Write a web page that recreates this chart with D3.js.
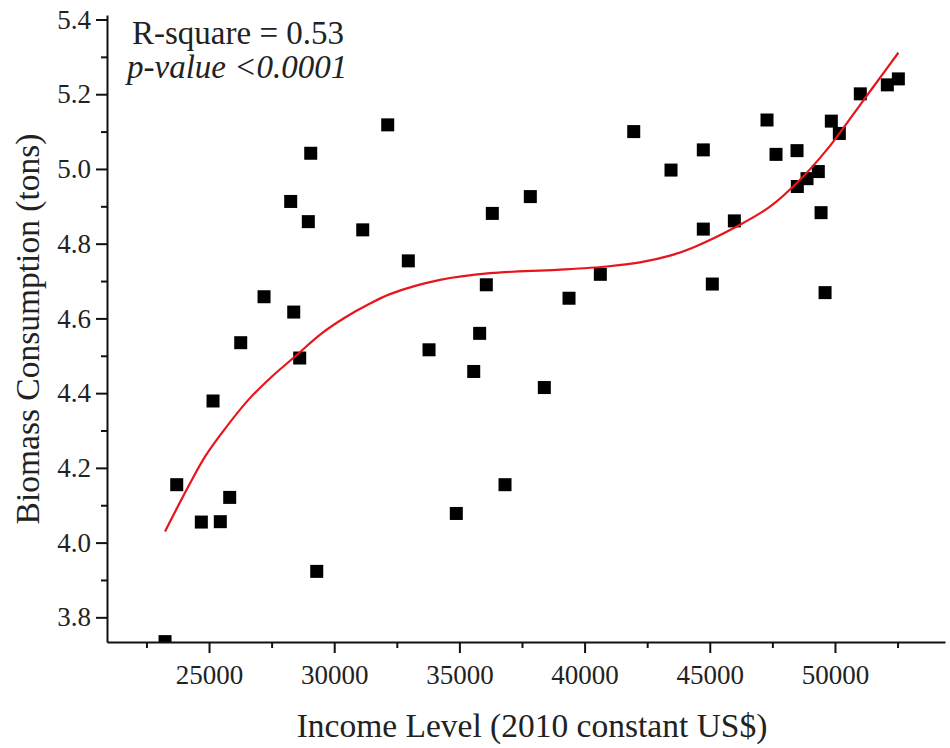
<!DOCTYPE html>
<html>
<head>
<meta charset="utf-8">
<script src="https://cdn.jsdelivr.net/npm/d3@7"></script>
<style>
  body { margin: 0; background: #fff; }
  svg { display: block; }
  text { font-family: "Liberation Serif", "Times New Roman", serif; fill: #222; }
</style>
</head>
<body>
<svg id="chart"></svg>
<script>
// income (2010 constant US$) vs biomass consumption (tons)
const income = [23243, 23710, 24693, 25160, 25451, 25826, 26266, 27197, 28262, 28383,
  28622, 28966, 29062, 29302, 31139, 32137, 32960, 33787, 34877, 35572,
  35809, 36075, 36315, 36822, 37833, 38392, 39378, 40629, 41963, 43452,
  44742, 44742, 45102, 45982, 47286, 47646, 48485, 48497, 48884, 49335,
  49445, 49605, 49855, 50175, 51013, 52092, 52532];
const biomass = [3.735, 4.155, 4.055, 4.379, 4.056, 4.121, 4.535, 4.658, 4.913, 4.617,
  4.494, 4.859, 5.042, 3.923, 4.837, 5.118, 4.754, 4.516, 4.078, 4.458,
  4.560, 4.690, 4.881, 4.155, 4.926, 4.415, 4.654, 4.718, 5.100, 4.997,
  5.051, 4.839, 4.692, 4.861, 5.131, 5.039, 5.049, 4.953, 4.974, 4.993,
  4.883, 4.669, 5.128, 5.095, 5.201, 5.225, 5.241];

// fitted curve
const fitIncome = [23243, 24173, 24840, 25507, 26570, 27504, 28435, 29501, 30500, 31300,
  32229, 34226, 36223, 38887, 40884, 42214, 43412, 44343, 46075, 47406,
  48605, 49671, 50469, 51535, 52532];
const fitBiomass = [4.030, 4.150, 4.230, 4.293, 4.382, 4.444, 4.498, 4.560, 4.605, 4.635,
  4.665, 4.703, 4.721, 4.730, 4.739, 4.750, 4.768, 4.790, 4.846, 4.899,
  4.971, 5.051, 5.122, 5.220, 5.311];

const xTicks = [25000, 30000, 35000, 40000, 45000, 50000];
const xMinor = [22500, 27500, 32500, 37500, 42500, 47500, 52500];
const yTicks = [3.8, 4.0, 4.2, 4.4, 4.6, 4.8, 5.0, 5.2, 5.4];
const yMinor = [3.9, 4.1, 4.3, 4.5, 4.7, 4.9, 5.1, 5.3];

const width = 950, height = 748;
const margin = { top: 15, right: 5, bottom: 106, left: 107 };
const w = width - margin.left - margin.right;
const h = height - margin.top - margin.bottom;

const svg = d3.select('#chart').attr('width', width).attr('height', height);
const g = svg.append('g').attr('transform', `translate(${margin.left},${margin.top})`);

const x = d3.scaleLinear().domain([20925, 54395]).range([0, w]);
const y = d3.scaleLinear().domain([3.734, 5.412]).range([h, 0]);

svg.append('clipPath').attr('id', 'plotClip')
  .append('rect').attr('x', 0).attr('y', -10).attr('width', w + 10).attr('height', h + 10);

// points
const pts = income.map((v, i) => ({ x: v, y: biomass[i] }));
const size = 13;
g.append('g').attr('clip-path', 'url(#plotClip)')
  .selectAll('rect')
  .data(pts)
  .enter()
  .append('rect')
  .attr('x', d => x(d.x) - size / 2)
  .attr('y', d => y(d.y) - size / 2)
  .attr('width', size)
  .attr('height', size)
  .attr('fill', '#000');

// fit line
const fit = fitIncome.map((v, i) => [v, fitBiomass[i]]);
const line = d3.line()
  .x(d => x(d[0]))
  .y(d => y(d[1]))
  .curve(d3.curveCatmullRom.alpha(0.5));
g.append('path')
  .datum(fit)
  .attr('d', line)
  .attr('fill', 'none')
  .attr('stroke', '#e8141b')
  .attr('stroke-width', 2.2);

// axes
g.append('g').attr('transform', `translate(0,${h})`)
  .call(d3.axisBottom(x).tickValues(xTicks).tickFormat(d3.format('d')).tickSize(11).tickPadding(12).tickSizeOuter(0));
g.append('g').attr('transform', `translate(0,${h})`)
  .call(d3.axisBottom(x).tickValues(xMinor).tickFormat('').tickSize(6).tickSizeOuter(0))
  .select('.domain').remove();

g.append('g')
  .call(d3.axisLeft(y).tickValues(yTicks).tickFormat(d3.format('.1f')).tickSize(11).tickPadding(5).tickSizeOuter(0));
g.append('g')
  .call(d3.axisLeft(y).tickValues(yMinor).tickFormat('').tickSize(6).tickSizeOuter(0))
  .select('.domain').remove();

g.selectAll('.domain').attr('stroke', '#111').attr('stroke-width', 2);
g.selectAll('.tick line').attr('stroke', '#111').attr('stroke-width', 2);
g.selectAll('.tick text')
  .style('font-family', '"Liberation Serif", serif')
  .style('font-size', '27px')
  .attr('fill', '#222');

// titles
svg.append('text')
  .attr('x', 532)
  .attr('y', 737)
  .attr('text-anchor', 'middle')
  .style('font-size', '33.5px')
  .text('Income Level (2010 constant US$)');

svg.append('text')
  .attr('transform', 'translate(39,329) rotate(-90)')
  .attr('text-anchor', 'middle')
  .style('font-size', '33.5px')
  .text('Biomass Consumption (tons)');

// annotation
svg.append('text')
  .attr('x', 132)
  .attr('y', 44)
  .style('font-size', '33px')
  .text('R-square = 0.53');
svg.append('text')
  .attr('x', 127)
  .attr('y', 78)
  .style('font-size', '33px')
  .style('font-style', 'italic')
  .text('p-value <0.0001');
</script>
</body>
</html>
